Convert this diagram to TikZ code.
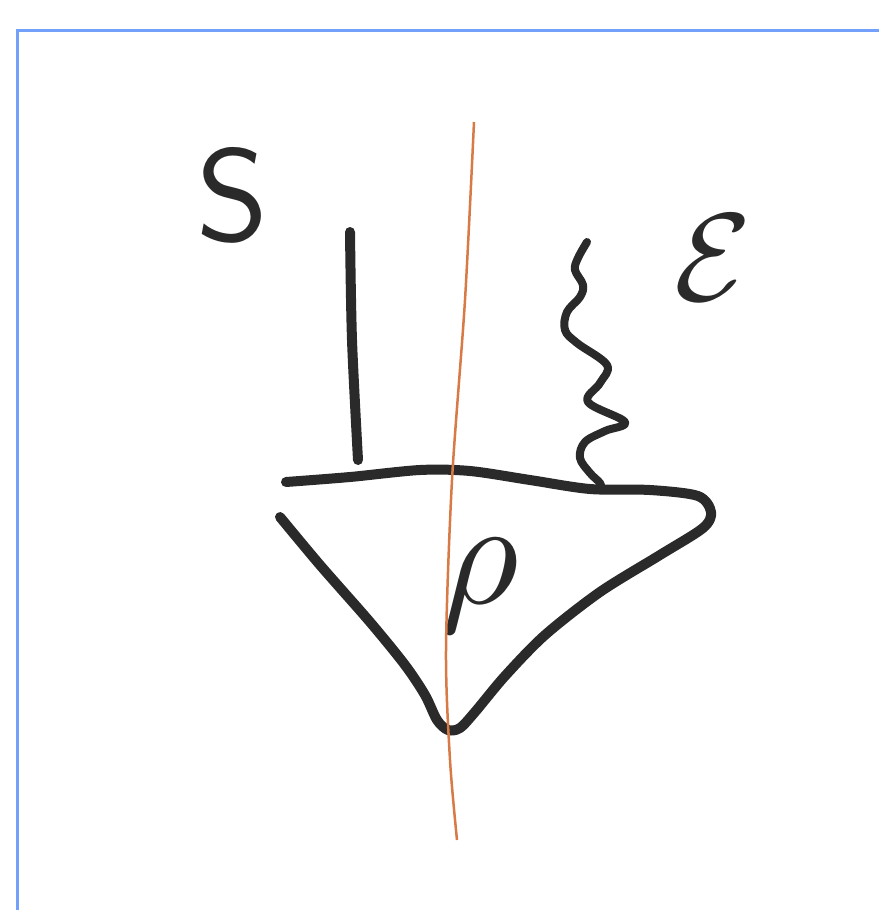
\documentclass[tikz,border=0pt]{standalone}
\usepackage{tikz}

\definecolor{inkgray}{HTML}{2A2A2A}
\definecolor{cutorange}{HTML}{D87A45}
\definecolor{frameblue}{HTML}{72A0FA}

\tikzset{
    ink/.style={color=inkgray, line width=10pt, line cap=round, line join=round},
    letter/.style={color=inkgray, inner sep=0pt}
}

\begin{document}
\begin{tikzpicture}[x=1pt, y=-1pt]

    \useasboundingbox (0,0) rectangle (879,910);

    % Frame
    \draw[frameblue, line width=3pt] (17,910) -- (17,30) -- (879,30);

    % Labels
    \node[letter, scale=13] (sys) at (233,195) {\sffamily S};
    \node[letter, scale=12.5] (env) at (713,258) {$\mathcal{E}$};
    \node[letter, scale=15] (rho) at (480,586) {$\rho$};

    % System leg
    \draw[ink] plot[smooth] coordinates {(350,232) (352,340) (358,460)};

    % Environment leg (wiggly)
    \draw[ink, line width=8pt] plot[smooth, tension=0.6] coordinates {
        (587,242) (578,258) (575,270) (583,285) (580,297) (567,312)
        (565,330) (577,343) (607,365) (600,383) (588,402) (625,422)
        (605,431) (585,442) (580,458) (590,473) (600,483) (601,489)};

    % Top edge and cone
    \draw[ink] plot[smooth, tension=0.5] coordinates {
        (286,482) (350,477) (420,470) (470,471) (530,480) (590,489)
        (650,490) (698,496) (711,512) (703,528) (660,555) (600,592)
        (545,635) (505,676) (475,712) (460,728) (448,730) (437,720)
        (425,695) (405,665) (370,622) (320,565) (280,517)};

    % Cut
    \draw[cutorange, line width=2.5pt] plot[smooth] coordinates {
        (474,122) (465,300) (452,480) (446,650) (450,760) (457,840)};

\end{tikzpicture}
\end{document}
